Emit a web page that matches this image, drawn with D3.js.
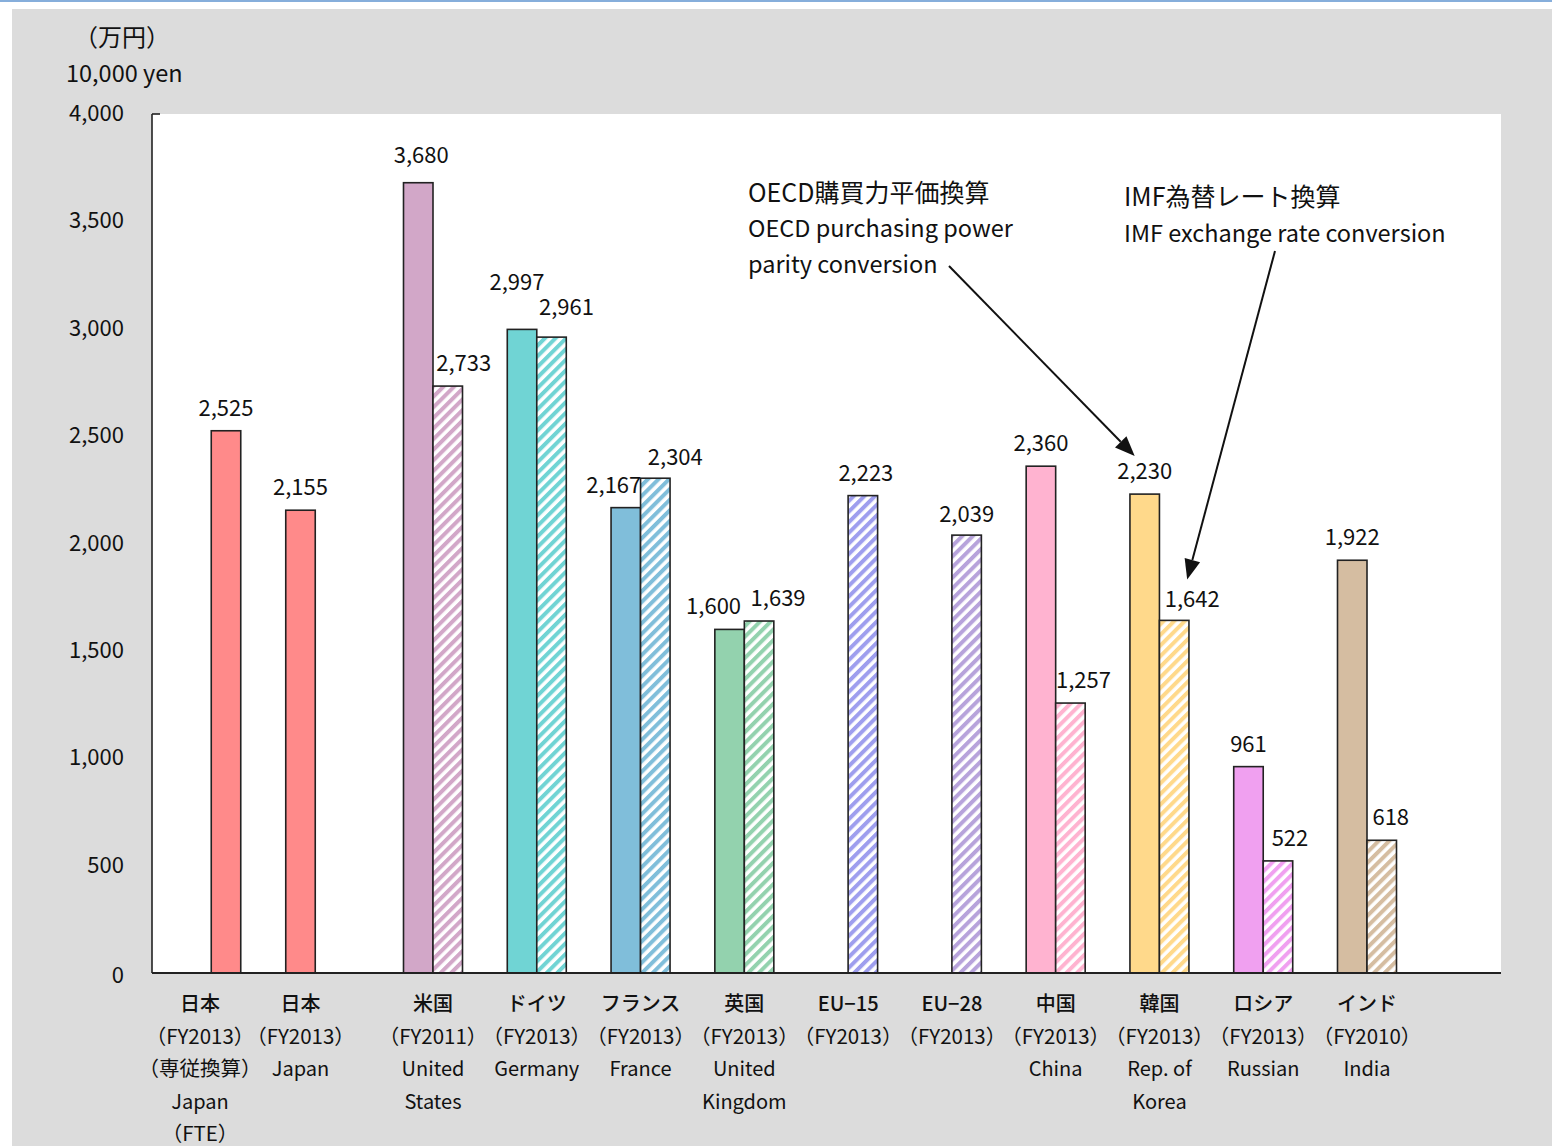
<!DOCTYPE html>
<html>
<head>
<meta charset="utf-8">
<script src="https://cdn.jsdelivr.net/npm/d3@7"></script>
<style>
  html, body { margin: 0; padding: 0; background: #ffffff; }
  svg { display: block; }
  text { font-family: "Noto Sans CJK JP", "DejaVu Sans", sans-serif; fill: #111111; }
</style>
</head>
<body>
<svg id="chart" width="1552" height="1146"></svg>
<script>
// Researcher cost per person, by country (unit: 10,000 yen)
const categoryLabels = [
  ["日本", "（FY2013）", "（専従換算）", "Japan", "（FTE）"],
  ["日本", "（FY2013）", "Japan"],
  ["米国", "（FY2011）", "United", "States"],
  ["ドイツ", "（FY2013）", "Germany"],
  ["フランス", "（FY2013）", "France"],
  ["英国", "（FY2013）", "United", "Kingdom"],
  ["EU−15", "（FY2013）"],
  ["EU−28", "（FY2013）"],
  ["中国", "（FY2013）", "China"],
  ["韓国", "（FY2013）", "Rep. of", "Korea"],
  ["ロシア", "（FY2013）", "Russian"],
  ["インド", "（FY2010）", "India"]
];
// OECD purchasing power parity conversion (solid bars)
const pppValues = [2525, 2155, 3680, 2997, 2167, 1600, null, null, 2360, 2230, 961, 1922];
// IMF exchange rate conversion (hatched bars)
const imfValues = [null, null, 2733, 2961, 2304, 1639, 2223, 2039, 1257, 1642, 522, 618];
const yTicks = [0, 500, 1000, 1500, 2000, 2500, 3000, 3500, 4000];

const barColors = ["#FF8A8A", "#FF8A8A", "#D2A7C8", "#70D4D4", "#80BEDA", "#93D2AE",
                   "#9E9EEE", "#B7A3DB", "#FFB3D0", "#FFD98B", "#F0A0F0", "#D5BDA1"];

const svg = d3.select("#chart");

// page framing
svg.append("rect").attr("x", 0).attr("y", 0).attr("width", 1552).attr("height", 2).attr("fill", "#86AEDB");
svg.append("rect").attr("x", 12).attr("y", 9).attr("width", 1540).attr("height", 1137).attr("fill", "#DCDCDC");

const plot = { left: 152, right: 1501, top: 114, bottom: 973 };
svg.append("rect")
  .attr("x", plot.left).attr("y", plot.top)
  .attr("width", plot.right - plot.left).attr("height", plot.bottom - plot.top)
  .attr("fill", "#ffffff");

const y = d3.scaleLinear().domain([0, 4000]).range([plot.bottom, plot.top]);

// group centres: two Japan columns, then evenly spaced country groups
const xMain = d3.scalePoint().domain(d3.range(2, 12)).range([433, 1367]);
const xJapan = d3.scalePoint().domain([0, 1]).range([226, 300.5]);
const groupX = i => (i < 2 ? xJapan(i) : xMain(i));
const barW = 29.5;

// hatch patterns, one per colour
const defs = svg.append("defs");
barColors.forEach((c, i) => {
  const p = defs.append("pattern")
    .attr("id", "hatch" + i)
    .attr("patternUnits", "userSpaceOnUse")
    .attr("width", 7.5).attr("height", 7.5)
    .attr("patternTransform", "rotate(45)");
  p.append("rect").attr("width", 7.5).attr("height", 7.5).attr("fill", "#ffffff");
  p.append("rect").attr("width", 4).attr("height", 7.5).attr("fill", c);
});

const bars = [];
categoryLabels.forEach((_, i) => {
  const c = groupX(i);
  if (pppValues[i] != null) {
    const x0 = i < 2 ? c - barW / 2 : c - barW;
    bars.push({ i, series: "ppp", value: pppValues[i], x0 });
  }
  if (imfValues[i] != null) {
    bars.push({ i, series: "imf", value: imfValues[i], x0: c });
  }
});

svg.append("g").selectAll("rect").data(bars).join("rect")
  .attr("x", d => d.x0)
  .attr("y", d => y(d.value))
  .attr("width", barW)
  .attr("height", d => y(0) - y(d.value))
  .attr("fill", d => d.series === "ppp" ? barColors[d.i] : `url(#hatch${d.i})`)
  .attr("stroke", "#222")
  .attr("stroke-width", 1.6);

// value labels, nudged where neighbours would collide
const labelNudge = {
  "2-ppp": [3, -5], "3-ppp": [-5, -24], "4-ppp": [-12, 0], "5-ppp": [-16, 0],
  "3-imf": [15, -7], "4-imf": [20, 2], "5-imf": [19, 0],
  "6-imf": [3, 0], "7-imf": [0, 2], "8-imf": [13, 0], "9-imf": [18, 2],
  "10-imf": [12, 0], "11-imf": [9, 0]
};
svg.append("g").selectAll("text").data(bars).join("text")
  .attr("x", d => {
    const n = labelNudge[`${d.i}-${d.series}`];
    return d.x0 + barW / 2 + (n ? n[0] : (d.series === "imf" ? 16 : 0));
  })
  .attr("y", d => {
    const n = labelNudge[`${d.i}-${d.series}`];
    return y(d.value) - 15 + (n ? n[1] : 0);
  })
  .attr("text-anchor", "middle")
  .attr("font-size", 22)
  .text(d => d3.format(",")(d.value));

// axes
svg.append("line").attr("x1", plot.left).attr("x2", plot.left)
  .attr("y1", plot.top).attr("y2", plot.bottom).attr("stroke", "#222").attr("stroke-width", 1.6);
svg.append("line").attr("x1", plot.left).attr("x2", plot.left + 8)
  .attr("y1", plot.top).attr("y2", plot.top).attr("stroke", "#222").attr("stroke-width", 1.6);
svg.append("line").attr("x1", plot.left).attr("x2", plot.right)
  .attr("y1", plot.bottom).attr("y2", plot.bottom).attr("stroke", "#222").attr("stroke-width", 1.8);

const yAxis = svg.append("g")
  .attr("transform", `translate(${plot.left},0)`)
  .call(d3.axisLeft(y).tickValues(yTicks).tickSize(0).tickPadding(28).tickFormat(d3.format(",")));
yAxis.select(".domain").remove();
yAxis.selectAll("text").attr("font-size", 22).attr("fill", "#111")
  .attr("font-family", "\"Noto Sans CJK JP\", sans-serif")
  .attr("dy", d => d === 0 ? "0.45em" : "0.3em");

// unit title
svg.append("text").attr("x", 122).attr("y", 46).attr("text-anchor", "middle")
  .attr("font-size", 24).text("（万円）");
svg.append("text").attr("x", 66).attr("y", 82).attr("font-size", 23.5).text("10,000 yen");

// category labels
const catLabelX = i => (i === 0 ? groupX(i) - 26 : groupX(i));
const catG = svg.append("g").selectAll("text").data(categoryLabels).join("text")
  .attr("text-anchor", "middle")
  .attr("font-size", 20);
catG.each(function (lines, i) {
  d3.select(this).selectAll("tspan").data(lines).join("tspan")
    .attr("x", catLabelX(i))
    .attr("y", (d, k) => 1011 + k * 32.5)
    .attr("font-weight", (d, k) => k === 0 ? 500 : 400)
    .attr("font-size", d => d.startsWith("（") ? 20.5 : 20)
    .text(d => d);
});

// annotations
const note = svg.append("g");
note.append("text").attr("x", 748).attr("y", 202).attr("font-size", 25).text("OECD購買力平価換算");
note.append("text").attr("x", 748).attr("y", 237).attr("font-size", 23.5).text("OECD purchasing power");
note.append("text").attr("x", 748).attr("y", 273).attr("font-size", 23.5).text("parity conversion");
note.append("text").attr("x", 1124).attr("y", 206).attr("font-size", 25).text("IMF為替レート換算");
note.append("text").attr("x", 1124).attr("y", 242).attr("font-size", 23.5).text("IMF exchange rate conversion");

function arrow(x1, y1, x2, y2) {
  const ang = Math.atan2(y2 - y1, x2 - x1);
  const len = 20, half = 8;
  const bx = x2 - len * Math.cos(ang), by = y2 - len * Math.sin(ang);
  svg.append("line").attr("x1", x1).attr("y1", y1).attr("x2", bx).attr("y2", by)
    .attr("stroke", "#111").attr("stroke-width", 2);
  const px = -Math.sin(ang) * half, py = Math.cos(ang) * half;
  svg.append("path")
    .attr("d", `M${x2},${y2}L${bx + px},${by + py}L${bx - px},${by - py}Z`)
    .attr("fill", "#111");
}
const korea = 9;
arrow(949, 266, groupX(korea) - barW / 2 - 10, y(pppValues[korea]) - 38);
arrow(1275, 251, groupX(korea) + barW / 2 + 13, y(imfValues[korea]) - 41);
</script>
</body>
</html>
